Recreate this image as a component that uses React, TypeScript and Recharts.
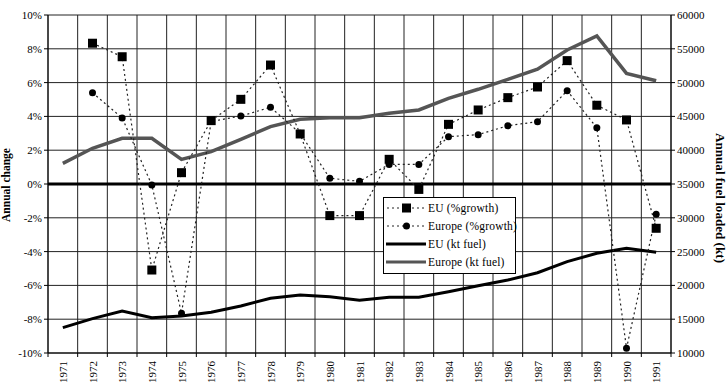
import { CartesianGrid, ComposedChart, Legend, Line, ReferenceLine, XAxis, YAxis } from "recharts";

const years = [
  "1971", "1972", "1973", "1974", "1975", "1976", "1977", "1978", "1979", "1980", "1981",
  "1982", "1983", "1984", "1985", "1986", "1987", "1988", "1989", "1990", "1991",
];

// annual growth, %
const euGrowth = [null, 8.33, 7.53, -5.09, 0.67, 3.75, 5.01, 7.04, 2.96, -1.87, -1.87, 1.46, -0.32, 3.53, 4.38, 5.11, 5.74, 7.3, 4.66, 3.79, -2.62];
const europeGrowth = [null, 5.4, 3.91, -0.06, -7.65, 3.7, 4.02, 4.54, 3.0, 0.34, 0.16, 1.16, 1.16, 2.8, 2.92, 3.45, 3.69, 5.52, 3.33, -9.72, -1.79];

// fuel loaded, kt
const euKt = [13750, 15080, 16220, 15230, 15480, 16020, 16960, 18100, 18580, 18330, 17790, 18240, 18240, 19070, 19960, 20800, 21880, 23510, 24750, 25490, 24900];
const europeKt = [38060, 40280, 41760, 41760, 38650, 39780, 41610, 43480, 44570, 44810, 44810, 45460, 45950, 47670, 49010, 50490, 51970, 54820, 56890, 51370, 50280];

const pctTicks = [-10, -8, -6, -4, -2, 0, 2, 4, 6, 8, 10];
const ktTicks = [10000, 15000, 20000, 25000, 30000, 35000, 40000, 45000, 50000, 55000, 60000];

const data = years.map((year, i) => ({
  year,
  euGrowth: euGrowth[i],
  europeGrowth: europeGrowth[i],
  euKt: euKt[i],
  europeKt: europeKt[i],
}));

const FONT = "Liberation Serif, Times New Roman, serif";
const BAND = 623 / 21;

const SquareDot = (props: any) => {
  const { cx, cy } = props;
  if (cx == null || cy == null) return null;
  return <rect x={cx - 4.5} y={cy - 4.5} width={9} height={9} fill="#000" />;
};

const RoundDot = (props: any) => {
  const { cx, cy } = props;
  if (cx == null || cy == null) return null;
  return <circle cx={cx} cy={cy} r={3.5} fill="#000" />;
};

// year labels sit between the boundary tick marks
const YearTick = (props: any) => {
  const { x, y, payload, index } = props;
  return (
    <g>
      <line x1={x - BAND / 2} x2={x - BAND / 2} y1={y} y2={y + 4} stroke="#000" />
      {index === years.length - 1 && (
        <line x1={x + BAND / 2} x2={x + BAND / 2} y1={y} y2={y + 4} stroke="#000" />
      )}
      <text
        x={x}
        y={y + 8}
        transform={`rotate(-90, ${x}, ${y + 8})`}
        textAnchor="end"
        dominantBaseline="central"
        fontSize={11}
        fontFamily={FONT}
        fill="#000"
      >
        {payload.value}
      </text>
    </g>
  );
};

const AxisTitle = ({ x, y, angle, length, children }: any) => (
  <text
    x={x}
    y={y}
    transform={`rotate(${angle}, ${x}, ${y})`}
    textAnchor="middle"
    dominantBaseline="central"
    fontSize={12}
    fontWeight="bold"
    fontFamily={FONT}
    fill="#000"
    textLength={length}
    lengthAdjust="spacingAndGlyphs"
  >
    {children}
  </text>
);

const legendRows = [
  { label: "EU (%growth)", kind: "square" },
  { label: "Europe (%growth)", kind: "circle" },
  { label: "EU (kt fuel)", kind: "euLine" },
  { label: "Europe (kt fuel)", kind: "europeLine" },
];

const renderLegend = () => (
  <div
    style={{
      border: "1px solid #000",
      background: "#fff",
      padding: "1px 0 2px 2px",
      fontFamily: FONT,
      fontSize: 11.5,
      letterSpacing: 0.2,
      color: "#000",
      whiteSpace: "nowrap",
    }}
  >
    {legendRows.map((row) => (
      <div key={row.label} style={{ display: "flex", alignItems: "center", height: 18 }}>
        <svg width={40} height={18} style={{ marginRight: 2, flexShrink: 0 }}>
          {row.kind === "square" || row.kind === "circle" ? (
            <>
              <line x1={1} x2={39} y1={9} y2={9} stroke="#222" strokeDasharray="2 3" />
              {row.kind === "square" ? (
                <rect x={16} y={4.5} width={9} height={9} fill="#000" />
              ) : (
                <circle cx={20.5} cy={9} r={3.5} fill="#000" />
              )}
            </>
          ) : (
            <line
              x1={0}
              x2={40}
              y1={9}
              y2={9}
              stroke={row.kind === "euLine" ? "#000" : "#555"}
              strokeWidth={3}
            />
          )}
        </svg>
        <span>{row.label}</span>
      </div>
    ))}
  </div>
);

export default function App() {
  return (
    <div style={{ position: "fixed", left: 0, top: 0, background: "#fff", fontFamily: FONT }}>
      <ComposedChart width={726} height={386} data={data} margin={{ top: 15, right: 0, bottom: 0, left: 0 }}>
        <CartesianGrid
          stroke="#222"
          strokeWidth={1}
          horizontalValues={pctTicks}
          verticalCoordinatesGenerator={({ offset }: any) =>
            years.map((_, i) => offset.left + (i * offset.width) / years.length).concat(offset.left + offset.width)
          }
          yAxisId="pct"
        />
        <XAxis
          dataKey="year"
          height={33}
          interval={0}
          padding={{ left: BAND / 2, right: BAND / 2 }}
          tick={<YearTick />}
          tickLine={false}
          tickSize={0}
          tickMargin={0}
          axisLine={{ stroke: "#000" }}
          yAxisId="pct"
        />
        <YAxis
          yAxisId="pct"
          width={48}
          domain={[-10, 10]}
          ticks={pctTicks}
          interval={0}
          tickFormatter={(v: number) => `${v}%`}
          tick={{ fontSize: 11, fontFamily: FONT, fill: "#000" }}
          tickSize={4}
          tickLine={{ stroke: "#000" }}
          axisLine={{ stroke: "#000" }}
          label={() => (
            <AxisTitle x={5.5} y={185} angle={-90} length={74}>
              Annual change
            </AxisTitle>
          )}
        />
        <YAxis
          yAxisId="kt"
          orientation="right"
          width={55}
          domain={[10000, 60000]}
          ticks={ktTicks}
          interval={0}
          tick={{ fontSize: 11, fontFamily: FONT, fill: "#000" }}
          tickSize={4}
          tickLine={{ stroke: "#000" }}
          axisLine={{ stroke: "#000" }}
          label={() => (
            <AxisTitle x={719.5} y={198} angle={90} length={130}>
              Annual fuel loaded (kt)
            </AxisTitle>
          )}
        />
        <ReferenceLine yAxisId="pct" y={0} stroke="#000" strokeWidth={3} />
        <Line
          yAxisId="kt"
          dataKey="euKt"
          name="EU (kt fuel)"
          type="linear"
          stroke="#000"
          strokeWidth={3}
          dot={false}
          isAnimationActive={false}
        />
        <Line
          yAxisId="kt"
          dataKey="europeKt"
          name="Europe (kt fuel)"
          type="linear"
          stroke="#555"
          strokeWidth={3.5}
          dot={false}
          isAnimationActive={false}
        />
        <Line
          yAxisId="pct"
          dataKey="europeGrowth"
          name="Europe (%growth)"
          type="linear"
          stroke="#222"
          strokeWidth={1.2}
          strokeDasharray="2 3"
          dot={<RoundDot />}
          isAnimationActive={false}
        />
        <Line
          yAxisId="pct"
          dataKey="euGrowth"
          name="EU (%growth)"
          type="linear"
          stroke="#222"
          strokeWidth={1.2}
          strokeDasharray="2 3"
          dot={<SquareDot />}
          isAnimationActive={false}
        />
        <Legend
          layout="vertical"
          align="center"
          verticalAlign="middle"
          content={renderLegend}
          wrapperStyle={{ position: "absolute", left: 383, top: 197, width: 133 }}
        />
      </ComposedChart>
    </div>
  );
}
